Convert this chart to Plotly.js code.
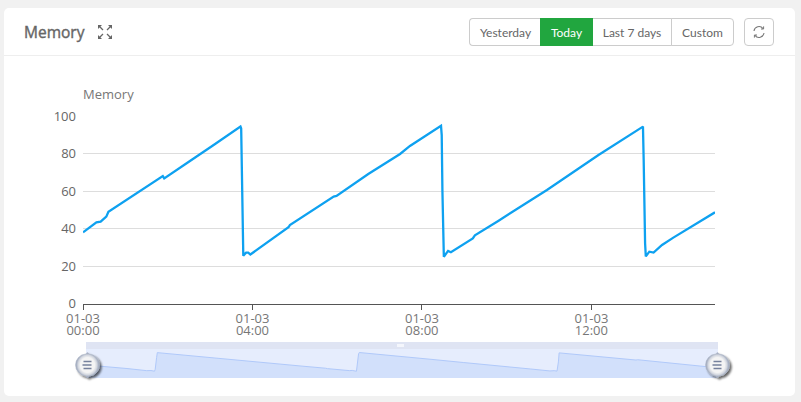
<!DOCTYPE html>
<html><head><meta charset="utf-8">
<script src="https://cdn.plot.ly/plotly-3.0.1.min.js"></script>
<style>
html,body{margin:0;padding:0;background:#f1f1f1;width:801px;height:402px;overflow:hidden;font-family:"Open Sans","Noto Sans",sans-serif}
.abs{position:absolute;box-sizing:border-box}
#card{left:4px;top:8px;width:791px;height:388px;background:#fff;border-radius:5px}
#hr{left:4px;top:55px;width:791px;height:1px;background:#eeeeee}
#title{left:24px;top:21px;font-size:15.5px;font-weight:400;-webkit-text-stroke:.4px #666;color:#666;line-height:22px}
.btn{top:18px;height:28px;font-family:Lato,sans-serif;font-size:12px;color:#666;line-height:27px;text-align:center;border:1px solid #ccc;background:#fff}
#mtop{left:86px;top:342px;width:632px;height:7px;background:#dfe4f3}
#mbody{left:86px;top:349px;width:632px;height:29px;background:#e6edfd}
#chart{left:0;top:0;width:801px;height:402px}
</style></head><body>
<div class="abs" id="card"></div><div class="abs" id="hr"></div>
<div class="abs" id="title">Memory</div>
<svg class="abs" style="left:96px;top:23px" width="18" height="18" viewBox="0 0 18 18" fill="#666" stroke="#666">
<path d="M2 2h4l-4 4z M16 2h-4l4 4z M2 16h4l-4-4z M16 16h-4l4-4z" stroke="none"/>
<path d="M3.5 3.5l3.5 3.5M14.5 3.5l-3.5 3.5M3.5 14.5l3.5-3.5M14.5 14.5l-3.5-3.5" stroke-width="1.3" fill="none"/></svg>
<div class="abs btn" style="left:469px;width:72px;border-radius:4px 0 0 4px;border-right:0">Yesterday</div>
<div class="abs btn" style="left:540px;width:53px;background:#21a63f;border-color:#21a63f;color:#fff">Today</div>
<div class="abs btn" style="left:593px;width:79px;border-left:0">Last 7 days</div>
<div class="abs btn" style="left:671px;width:63px;border-radius:0 4px 4px 0">Custom</div>
<div class="abs btn" style="left:744px;width:30px;border-radius:4px"></div>
<svg class="abs" style="left:752px;top:25px" width="14" height="14" viewBox="0 0 14 14" fill="none" stroke="#777" stroke-width="1.1">
<path d="M2 6a5 5 0 0 1 9-2.4M12 8a5 5 0 0 1-9 2.4"/><path d="M11.6 1.4v2.6H9M2.4 12.6V10H5" stroke-width="1"/></svg>
<div class="abs" id="mtop"></div><div class="abs" id="mbody"></div>
<div class="abs" style="left:397px;top:344px;width:7px;height:3px;background:#f4f6fc"></div>
<div class="abs" id="chart"></div>
<svg class="abs" style="left:70px;top:346px" width="40" height="36" viewBox="0 0 40 36"><use href="#h"/>
<defs><radialGradient id="g" cx=".5" cy=".5" r=".5"><stop offset=".6" stop-color="#f4f4f4"/><stop offset=".78" stop-color="#d4d8e0"/><stop offset="1" stop-color="#8f9ab2"/></radialGradient>
<filter id="s" x="-30%" y="-30%" width="170%" height="170%"><feDropShadow dx="2" dy="2" stdDeviation="1.2" flood-color="#000" flood-opacity=".6"/></filter>
<g id="h"><path filter="url(#s)" d="M17.5 6.5 l2 1.6 A11 11 0 0 1 19.5 30 l-2 1.5 l-2-1.6 A11 11 0 0 1 15.5 8z" fill="url(#g)" stroke="#b4bccb" stroke-width=".6"/>
<path d="M13.5 15.5h8M12.5 19h9M13.5 22.5h8" stroke="#76819c" stroke-width="1.5" fill="none"/></g></defs></svg>
<svg class="abs" style="left:700px;top:346px" width="40" height="36" viewBox="0 0 40 36"><use href="#h"/></svg>
<script>
var times = ["00:00","00:19","00:25","00:33","00:36","01:16","01:52","01:53","01:55","02:03","02:32","03:05","03:43","03:44","03:45","03:46","03:47","03:51","03:54","03:57","04:25","04:34","04:51","04:53","05:43","05:55","05:59","06:44","07:29","07:43","08:27","08:28","08:29","08:30","08:31","08:37","08:41","09:12","09:15","09:48","10:57","12:10","13:13","13:14","13:15","13:16","13:17","13:22","13:28","13:40","13:56","14:55"];
var memory = [38.1,43.4,43.8,46.5,49.1,58.9,67.8,68.1,66.9,69,76.3,84.7,94.5,93.5,60,35.8,25.7,27.3,27.3,26.3,33.7,36.2,40.8,42,54.3,57.2,57.5,69.2,79.9,84.2,94.9,90,60,35,25.1,28.2,27.5,34.9,36.5,44.2,60.7,79.4,94.5,76.7,50,32.3,25.3,27.8,27.3,31.4,35.3,48.8];
var day = "2024-01-03 ";
var stamps = times.map(function(t){return day+t;});
var W=801,H=402;
var tickFont = {size:13,color:"#777"};
var layout = {
  width:W,height:H,margin:{l:0,r:0,t:0,b:0},paper_bgcolor:"rgba(0,0,0,0)",plot_bgcolor:"rgba(0,0,0,0)",
  showlegend:false,
  font:{family:'"Open Sans","Noto Sans",sans-serif',size:13,color:"#777"},
  xaxis:{domain:[83/W,715/W],anchor:"y",type:"date",range:[day+"00:00",day+"14:55"],dtick:14400000,tick0:day+"00:00",
    tickformat:"%m-%d<br>%H:%M",tickfont:tickFont,ticks:"outside",ticklen:5,tickcolor:"#555",showgrid:false,showline:true,linecolor:"#555",linewidth:1,zeroline:false},
  yaxis:{domain:[1-303.8/H,1-116.3/H],anchor:"x",range:[0,100],dtick:20,gridcolor:"#dddddd",gridwidth:1,zeroline:false,showline:false,ticks:"",
    ticklabelstandoff:6,tickfont:{size:13,color:"#666"}},
  xaxis2:{domain:[86/W,718/W],anchor:"y2",type:"date",range:[day+"14:54","2024-01-02 23:59"],visible:false},
  yaxis2:{domain:[1-378/H,1-349/H],anchor:"x2",range:[0,108],visible:false},
  annotations:[{xref:"paper",yref:"paper",x:83/W,y:1-94/H,xanchor:"left",yanchor:"middle",text:"Memory",showarrow:false,xshift:-2,font:tickFont}]
};
var traces = [
 {x:stamps,y:memory,xaxis:"x",yaxis:"y",type:"scatter",mode:"lines",line:{color:"#0ea1f0",width:2.3},hoverinfo:"none"},
 {x:stamps,y:memory,xaxis:"x2",yaxis:"y2",type:"scatter",mode:"lines",fill:"tozeroy",fillcolor:"#d2e0fb",line:{color:"#b0c9fa",width:1},hoverinfo:"none"}
];
Plotly.newPlot("chart",traces,layout,{displayModeBar:false,staticPlot:true}).then(function(){
  document.querySelectorAll("#chart .xtick text").forEach(function(t){
    var lines=t.querySelectorAll("tspan.line");
    if(lines.length===2){lines[0].setAttribute("dy","-2.5px");lines[1].setAttribute("dy","9.5px");}
  });
});
</script>
</body></html>
